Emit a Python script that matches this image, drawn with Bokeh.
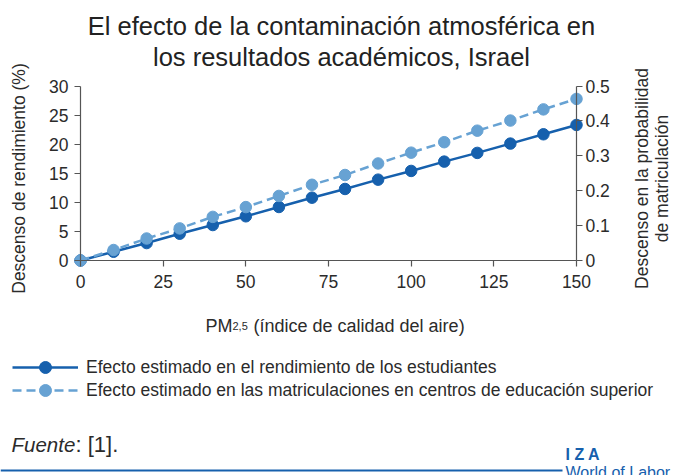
import math
from bokeh.plotting import figure
from bokeh.models import (Range1d, LinearAxis, FixedTicker, Label, Legend,
                          LegendItem, BoxAnnotation)
from bokeh.embed import file_html
from bokeh.resources import INLINE

# ---------------- data ----------------
pm25 = [0, 10, 20, 30, 40, 50, 60, 70, 80, 90, 100, 110, 120, 130, 140, 150]
rendimiento = [0, 1.5, 3.0, 4.6, 6.1, 7.6, 9.2, 10.8, 12.3, 13.9, 15.4,
               17.0, 18.5, 20.1, 21.7, 23.3]
matriculacion = [0, 0.030, 0.063, 0.092, 0.125, 0.153, 0.185, 0.217, 0.245,
                 0.278, 0.309, 0.339, 0.372, 0.401, 0.433, 0.463]
x_ticks = [0, 25, 50, 75, 100, 125, 150]
left_ticks = [0, 5, 10, 15, 20, 25, 30]
right_ticks = [0, 0.1, 0.2, 0.3, 0.4, 0.5]
right_tick_labels = ["0", "0.1", "0.2", "0.3", "0.4", "0.5"]

title_lines = ["El efecto de la contaminación atmosférica en",
               "los resultados académicos, Israel"]
left_label = "Descenso de rendimiento (%)"
right_label = ["Descenso en la probabilidad", "de matriculación"]
x_label = ["PM", "2,5", "(índice de calidad del aire)"]
series_names = ["Efecto estimado en el rendimiento de los estudiantes",
                "Efecto estimado en las matriculaciones en centros de educación superior"]

DARK = "#1660ad"
LIGHT = "#67a2d3"
TEXT = "#2b2b2b"
AXIS = "#555555"
FONT = "Liberation Sans"

W, H = 675, 475
# pixel positions of the data box in the reference
X0_PX, X1_PX = 80, 576      # x = 0 .. 150
Y0_PX, Y1_PX = 260, 85.5    # y = 0 .. 30
kx = (X1_PX - X0_PX) / 150.0
ky = (Y0_PX - Y1_PX) / 30.0
x_start = -X0_PX / kx
x_end = 150 + (W - X1_PX) / kx
y_start = -(H - Y0_PX) / ky
y_end = 30 + Y1_PX / ky


def sx(px):
    return px


def sy(py):
    return H - py


p = figure(width=W, height=H, output_backend="svg", toolbar_location=None,
           x_range=Range1d(x_start, x_end), y_range=Range1d(y_start, y_end),
           x_axis_location=None, y_axis_location=None,
           min_border_left=0, min_border_right=0,
           min_border_top=0, min_border_bottom=0,
           title=None)
p.outline_line_color = None
p.background_fill_color = "white"
p.border_fill_color = "white"
for g in p.grid:
    g.visible = False
p.extra_y_ranges = {"right": Range1d(y_start / 60, y_end / 60)}


def style_axis(ax, standoff):
    ax.axis_line_color = AXIS
    ax.axis_line_width = 1.2
    ax.major_tick_line_color = AXIS
    ax.major_tick_line_width = 1.2
    ax.major_tick_out = 6
    ax.major_tick_in = 0
    ax.minor_tick_line_color = None
    ax.major_label_text_font = FONT
    ax.major_label_text_font_size = "17.5px"
    ax.major_label_text_color = TEXT
    ax.major_label_standoff = standoff


xaxis = LinearAxis(ticker=FixedTicker(ticks=x_ticks), fixed_location=0,
                   bounds=(0, 150))
style_axis(xaxis, 8)
p.add_layout(xaxis, "below")

laxis = LinearAxis(ticker=FixedTicker(ticks=left_ticks), fixed_location=0,
                   bounds=(0, 30))
style_axis(laxis, 6)
p.add_layout(laxis, "left")

raxis = LinearAxis(y_range_name="right", ticker=FixedTicker(ticks=right_ticks),
                   fixed_location=150, bounds=(0, 0.5),
                   major_label_overrides=dict(zip(right_ticks, right_tick_labels)))
style_axis(raxis, 3)
p.add_layout(raxis, "right")

l1 = p.line(pm25, rendimiento, line_color=DARK, line_width=2.5)
s1 = p.scatter(pm25, rendimiento, size=11.5, fill_color=DARK, line_color=DARK)
l2 = p.line(pm25, matriculacion, y_range_name="right", line_color=LIGHT,
            line_width=2.5, line_dash="9 5")
s2 = p.scatter(pm25, matriculacion, y_range_name="right", size=11.5,
               fill_color=LIGHT, line_color=LIGHT)


def add_legend(name, renderers, center_py):
    lg = Legend(items=[LegendItem(label=name, renderers=renderers)],
                location=(sx(12), sy(center_py + 15)), glyph_width=66,
                glyph_height=30, spacing=0, label_standoff=8, padding=0,
                margin=0, border_line_color=None, background_fill_alpha=0,
                label_text_font=FONT, label_text_font_size="17.5px",
                label_text_color=TEXT, label_height=20)
    p.add_layout(lg, "center")


add_legend(series_names[0], [l1, s1], 367)
add_legend(series_names[1], [l2, s2], 390)


def add_label(text, px, py, size, align="center", baseline="middle", angle=0,
              color=TEXT, style="normal"):
    p.add_layout(Label(x=sx(px), y=sy(py), x_units="screen", y_units="screen",
                       text=text, text_font=FONT, text_font_size=f"{size}px",
                       text_color=color, text_align=align,
                       text_baseline=baseline, angle=angle,
                       text_font_style=style))


add_label(title_lines[0], 341, 25, 25.5, color="#222222")
add_label(title_lines[1], 341, 56, 25.5, color="#222222")
add_label(left_label, 18, 178, 17.5, angle=math.pi / 2)
add_label(right_label[0], 641, 178, 17.5, angle=math.pi / 2)
add_label(right_label[1], 661, 178, 17.5, angle=math.pi / 2)
add_label(x_label[0], 205, 325, 18, align="left", baseline="alphabetic")
add_label(x_label[1], 232, 325, 11, align="left", baseline="alphabetic")
add_label(x_label[2], 253, 325, 18, align="left", baseline="alphabetic")
add_label("Fuente", 11, 444, 20.5, align="left", baseline="alphabetic",
          style="italic")
add_label(": [1].", 75, 444, 22, align="left", baseline="alphabetic")
add_label("I Z A", 565, 454, 16, align="left", color=DARK, style="bold")
add_label("World of Labor", 565, 472, 16, align="left", color=DARK)

p.add_layout(BoxAnnotation(left=sx(0), right=sx(562), top=sy(469),
                           bottom=sy(471), left_units="screen",
                           right_units="screen", top_units="screen",
                           bottom_units="screen", fill_color=DARK,
                           fill_alpha=1, line_color=None))

open("out.html", "w").write(file_html(p, INLINE))
